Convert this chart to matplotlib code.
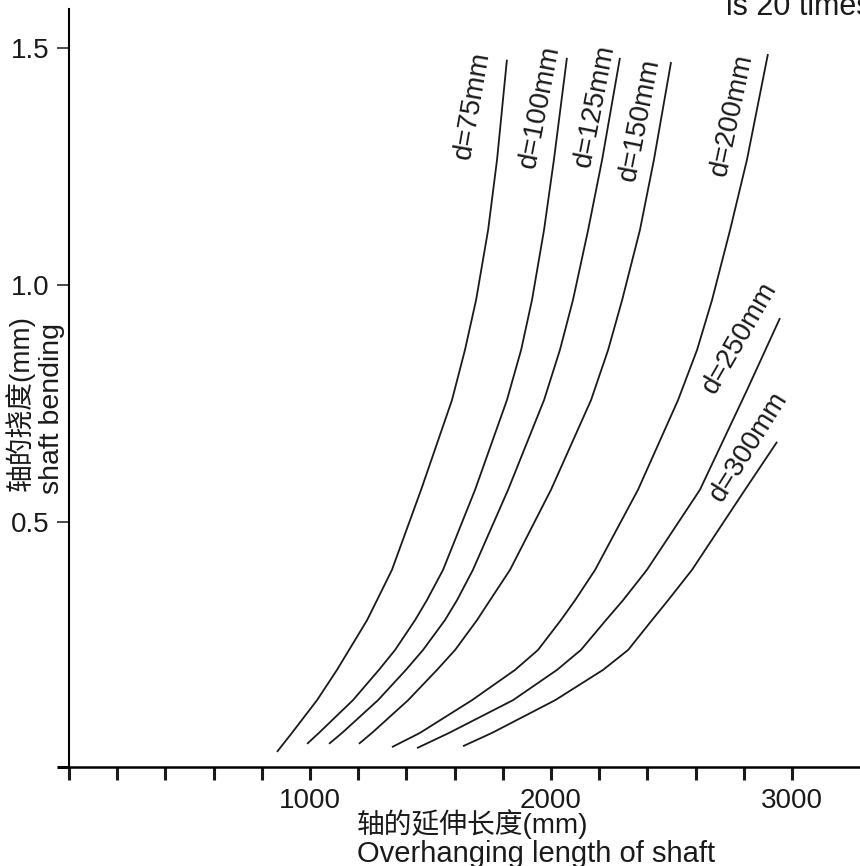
import matplotlib
matplotlib.use("Agg")
import matplotlib.pyplot as plt

plt.rcParams['font.family'] = ['Liberation Sans', 'Noto Sans CJK SC']

# shaft overhang length (mm) vs bending (mm)
d75_x = [863, 925, 1029, 1112, 1162, 1237, 1278, 1340, 1461, 1589, 1643, 1689, 1739, 1776, 1817]
d75_y = [0.015, 0.055, 0.124, 0.188, 0.230, 0.293, 0.335, 0.399, 0.568, 0.757, 0.863, 0.968, 1.116, 1.264, 1.475]

d100_x = [988, 1037, 1178, 1286, 1353, 1436, 1485, 1552, 1685, 1817, 1876, 1921, 1971, 2012, 2066]
d100_y = [0.032, 0.055, 0.124, 0.188, 0.230, 0.293, 0.335, 0.399, 0.568, 0.757, 0.863, 0.968, 1.116, 1.264, 1.479]

d125_x = [1079, 1133, 1282, 1398, 1469, 1560, 1610, 1676, 1822, 1971, 2037, 2091, 2154, 2212, 2286]
d125_y = [0.032, 0.055, 0.124, 0.188, 0.230, 0.293, 0.335, 0.399, 0.568, 0.757, 0.863, 0.968, 1.116, 1.264, 1.479]

d150_x = [1203, 1257, 1407, 1527, 1602, 1693, 1747, 1830, 2000, 2166, 2237, 2295, 2369, 2427, 2498]
d150_y = [0.032, 0.055, 0.124, 0.188, 0.230, 0.293, 0.335, 0.399, 0.568, 0.757, 0.863, 0.968, 1.116, 1.264, 1.470]

d200_x = [1340, 1456, 1672, 1851, 1946, 2041, 2100, 2183, 2361, 2527, 2606, 2668, 2743, 2813, 2900]
d200_y = [0.025, 0.055, 0.124, 0.188, 0.230, 0.293, 0.335, 0.399, 0.568, 0.757, 0.863, 0.968, 1.116, 1.264, 1.487]

d250_x = [1444, 1577, 1842, 2025, 2124, 2228, 2299, 2398, 2618, 2813, 2950]
d250_y = [0.023, 0.055, 0.124, 0.188, 0.230, 0.293, 0.335, 0.399, 0.568, 0.778, 0.930]

d300_x = [1635, 1755, 2017, 2216, 2320, 2419, 2486, 2585, 2805, 2938]
d300_y = [0.027, 0.055, 0.124, 0.188, 0.230, 0.293, 0.335, 0.399, 0.568, 0.669]

curve_labels = ["d=75mm", "d=100mm", "d=125mm", "d=150mm", "d=200mm", "d=250mm", "d=300mm"]
# label anchor (data coords) and rotation
label_x = [1672, 1954, 2183, 2369, 2751, 2784, 2822]
label_y = [1.380, 1.376, 1.378, 1.348, 1.359, 0.888, 0.658]
label_rot = [80, 79, 79, 79, 78, 60, 58]

x_ticks = [0, 200, 400, 600, 800, 1000, 1200, 1400, 1600, 1800, 2000,
           2200, 2400, 2600, 2800, 3000]
x_ticklabels = ["" if t not in (1000, 2000, 3000) else str(t) for t in x_ticks]
y_ticks = [0.5, 1.0, 1.5]
y_ticklabels = ["0.5", "1.0", "1.5"]

W, H = 860, 866
fig = plt.figure(figsize=(W / 100, H / 100), dpi=100)
ax = fig.add_axes([69 / W, 1 - 767 / H, (W - 69) / W, (767 - 9) / H])

series = [(d75_x, d75_y), (d100_x, d100_y), (d125_x, d125_y), (d150_x, d150_y),
          (d200_x, d200_y), (d250_x, d250_y), (d300_x, d300_y)]
for (xs, ys) in series:
    ax.plot(xs, ys, color='#1a1a1a', lw=1.3, solid_capstyle='butt',
            solid_joinstyle='round')

for lab, lx, ly, rot in zip(curve_labels, label_x, label_y, label_rot):
    ax.text(lx, ly, lab, rotation=rot, ha='center', va='center',
            fontsize=20, color='#1a1a1a')

ax.set_xlim(0, 3282)
ax.set_ylim(-0.0169, 1.582)

ax.spines['top'].set_visible(False)
ax.spines['right'].set_visible(False)
ax.spines['left'].set_linewidth(1.5)
ax.spines['bottom'].set_linewidth(1.8)

ax.set_xticks(x_ticks)
ax.set_xticklabels(x_ticklabels)
ax.set_yticks(y_ticks)
ax.set_yticklabels(y_ticklabels)
ax.set_yticks([-0.0169], minor=True)

ax.tick_params(axis='x', direction='out', length=9, width=2.2, pad=6,
               labelsize=20, colors='#1a1a1a')
ax.tick_params(axis='y', which='major', direction='out', length=9, width=1.1,
               pad=5, labelsize=20, colors='#1a1a1a')
ax.tick_params(axis='y', which='minor', direction='out', length=9, width=2.2)

# axis titles (bilingual)
fig.text(20 / W, 1 - 403 / H, "轴的挠度(mm)", rotation=90, ha='center',
         va='center', fontsize=20, color='#1a1a1a')
fig.text(52 / W, 1 - 408 / H, "shaft bending", rotation=90, ha='center',
         va='center', fontsize=20.5, color='#1a1a1a')
fig.text(357 / W, 1 - 833 / H, "轴的延伸长度(mm)", ha='left', va='baseline',
         fontsize=20, color='#1a1a1a')
fig.text(357 / W, 1 - 862 / H, "Overhanging length of shaft", ha='left',
         va='baseline', fontsize=21, color='#1a1a1a')

# note cut off at the top edge
fig.text(726 / W, 1 - 15 / H, "is 20 times", ha='left', va='baseline',
         fontsize=22, color='#1a1a1a')

fig.savefig("out.png", dpi=100)
